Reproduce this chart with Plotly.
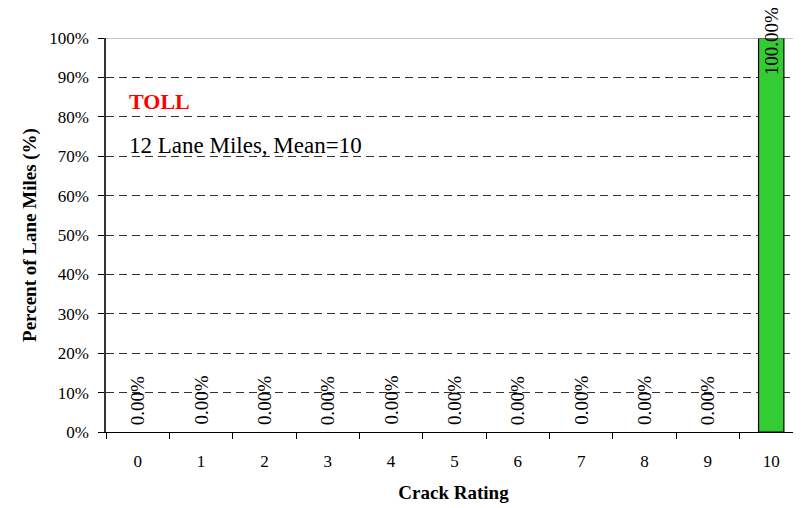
import plotly.graph_objects as go

# Crack rating distribution, TOLL
ratings = ["0", "1", "2", "3", "4", "5", "6", "7", "8", "9", "10"]
pct_lane_miles = [0, 0, 0, 0, 0, 0, 0, 0, 0, 0, 100]
y_ticks = [0, 10, 20, 30, 40, 50, 60, 70, 80, 90, 100]
y_tick_text = [f"{v}%" for v in y_ticks]
district = "TOLL"
summary = "12 Lane Miles, Mean=10"

FONT = "Liberation Serif, Times New Roman, serif"

fig = go.Figure()

fig.add_trace(
    go.Bar(
        x=ratings, y=pct_lane_miles,
        width=0.4,
        marker=dict(
            color="#33CC33",
            # zero-height bars should not leave a stray outline
            line=dict(color="black", width=[0 if v == 0 else 1.2 for v in pct_lane_miles]),
        ),
        showlegend=False,
    )
)

# rotated value labels
for r, v in zip(ratings, pct_lane_miles):
    fig.add_annotation(
        x=r, y=v, xref="x", yref="y",
        text=f"{v:.2f}%",
        textangle=-90,
        showarrow=False,
        yanchor="bottom",
        yshift=-39 if v >= 100 else 5,
        font=dict(family=FONT, size=19, color="black"),
    )

fig.add_annotation(
    x=0, y=0.8376, xref="paper", yref="paper", xanchor="left", yanchor="middle",
    text=f"<b>{district}</b>", showarrow=False, xshift=21,
    font=dict(family=FONT, size=22, color="red"),
)
fig.add_annotation(
    x=0, y=0.726, xref="paper", yref="paper", xanchor="left", yanchor="middle",
    text=summary, showarrow=False, xshift=21,
    font=dict(family=FONT, size=23, color="black"),
)

# top border line
fig.add_shape(type="line", xref="paper", yref="y", x0=0, x1=1, y0=100, y1=100,
              line=dict(color="#888888", width=1))

# page body adds an 8px offset, so the figure is 8px smaller on each side
fig.update_layout(
    width=793, height=500,
    margin=dict(l=98, r=0, t=30, b=76),
    plot_bgcolor="white", paper_bgcolor="white",
    font=dict(family=FONT, size=17, color="black"),
)
fig.update_xaxes(
    type="category",
    range=[-0.5, 10.47],
    showline=True, linecolor="black", linewidth=1.2,
    ticks="outside", ticklen=6, tickcolor="black", tickson="boundaries",
    ticklabelstandoff=13,
    showgrid=False,
    title=dict(text="<b>Crack Rating</b>", font=dict(family=FONT, size=19), standoff=16),
)
fig.update_yaxes(
    range=[0, 100],
    tickvals=y_ticks, ticktext=y_tick_text,
    showline=True, linecolor="#333333", linewidth=1.5,
    ticks="outside", ticklen=6, tickcolor="black",
    ticklabelstandoff=6,
    showgrid=True, gridcolor="#333333", griddash="8px,5px", gridwidth=1,
    zeroline=False,
    title=dict(text="<b>Percent of Lane Miles (%)</b>", font=dict(family=FONT, size=19), standoff=8),
)

fig.write_html("out.html")
